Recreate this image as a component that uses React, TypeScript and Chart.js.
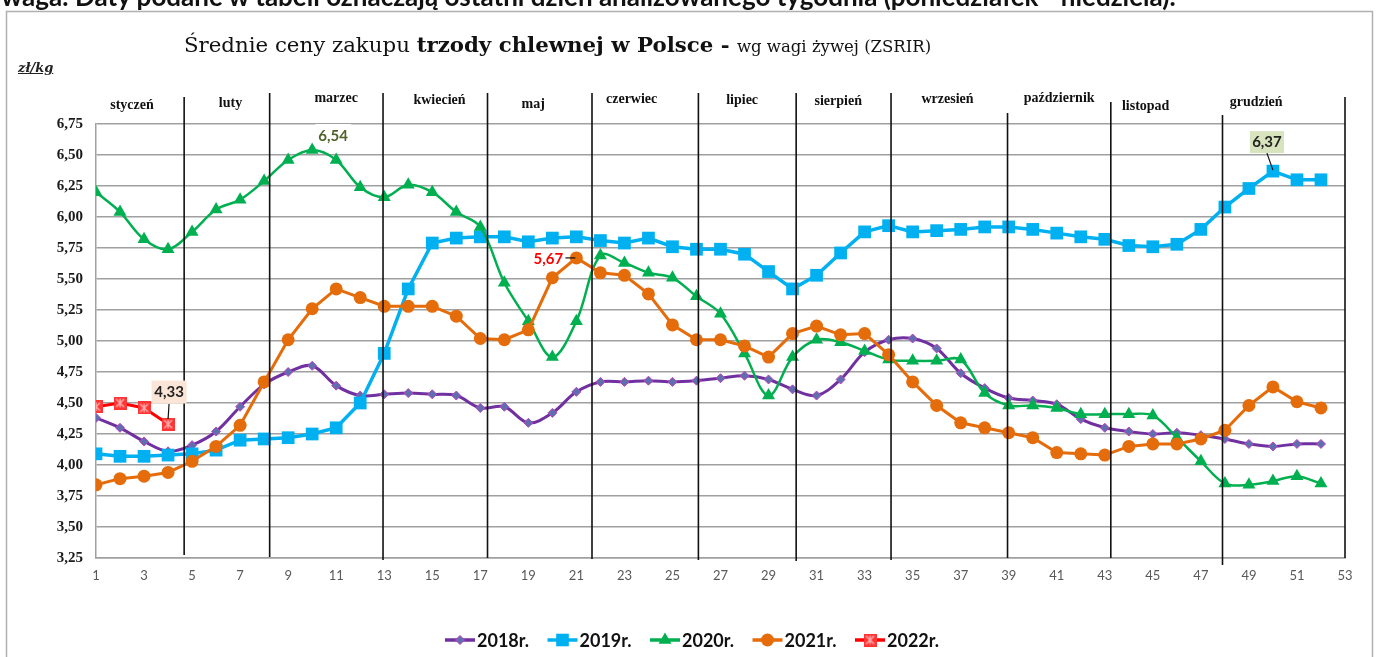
import React, { useEffect, useRef } from "react";
import { Chart, registerables } from "chart.js";
Chart.register(...registerables);

const weeks = [1, 2, 3, 4, 5, 6, 7, 8, 9, 10, 11, 12, 13, 14, 15, 16, 17, 18, 19, 20, 21, 22, 23, 24, 25, 26, 27, 28, 29, 30, 31, 32, 33, 34, 35, 36, 37, 38, 39, 40, 41, 42, 43, 44, 45, 46, 47, 48, 49, 50, 51, 52];

const y2018 = [4.38, 4.30, 4.19, 4.11, 4.16, 4.27, 4.47, 4.65, 4.75, 4.80, 4.64, 4.56, 4.57, 4.58, 4.57, 4.56, 4.46, 4.47, 4.34, 4.42, 4.59, 4.67, 4.67, 4.68, 4.67, 4.68, 4.70, 4.72, 4.69, 4.61, 4.56, 4.69, 4.91, 5.01, 5.02, 4.94, 4.74, 4.62, 4.54, 4.52, 4.49, 4.37, 4.30, 4.27, 4.25, 4.26, 4.24, 4.21, 4.17, 4.15, 4.17, 4.17];
const y2019 = [4.09, 4.07, 4.07, 4.08, 4.09, 4.12, 4.20, 4.21, 4.22, 4.25, 4.30, 4.50, 4.90, 5.42, 5.79, 5.83, 5.84, 5.84, 5.80, 5.83, 5.84, 5.81, 5.79, 5.83, 5.76, 5.74, 5.74, 5.70, 5.56, 5.42, 5.53, 5.71, 5.88, 5.93, 5.88, 5.89, 5.90, 5.92, 5.92, 5.90, 5.87, 5.84, 5.82, 5.77, 5.76, 5.78, 5.90, 6.08, 6.23, 6.37, 6.30, 6.30];
const y2020 = [6.20, 6.04, 5.82, 5.74, 5.88, 6.06, 6.14, 6.29, 6.46, 6.54, 6.46, 6.24, 6.16, 6.26, 6.20, 6.04, 5.92, 5.47, 5.16, 4.87, 5.16, 5.69, 5.63, 5.55, 5.51, 5.36, 5.22, 4.90, 4.56, 4.87, 5.01, 4.99, 4.92, 4.85, 4.84, 4.84, 4.85, 4.58, 4.48, 4.48, 4.46, 4.41, 4.41, 4.41, 4.40, 4.22, 4.03, 3.85, 3.84, 3.87, 3.91, 3.85];
const y2021 = [3.84, 3.89, 3.91, 3.94, 4.03, 4.15, 4.32, 4.67, 5.01, 5.26, 5.42, 5.35, 5.28, 5.28, 5.28, 5.20, 5.02, 5.01, 5.09, 5.51, 5.67, 5.55, 5.53, 5.38, 5.13, 5.01, 5.01, 4.96, 4.87, 5.06, 5.12, 5.05, 5.06, 4.89, 4.67, 4.48, 4.34, 4.30, 4.26, 4.22, 4.10, 4.09, 4.08, 4.15, 4.17, 4.17, 4.21, 4.28, 4.48, 4.63, 4.51, 4.46];
const y2022 = [4.47, 4.50, 4.46, 4.33];

const seriesNames = ["2018r.", "2019r.", "2020r.", "2021r.", "2022r."];
const months = ["styczeń", "luty", "marzec", "kwiecień", "maj", "czerwiec", "lipiec", "sierpień", "wrzesień", "październik", "listopad", "grudzień"];
const yTickLabels = ["3,25", "3,50", "3,75", "4,00", "4,25", "4,50", "4,75", "5,00", "5,25", "5,50", "5,75", "6,00", "6,25", "6,50", "6,75"];

// layout (week-unit positions of month separators and labels)
const monthLabelAt = [2.5, 6.6, 11.0, 15.3, 19.2, 23.3, 27.9, 31.9, 36.45, 41.1, 44.7, 49.3];
const monthLabelY = [105, 103, 98, 100, 104, 99, 100, 101, 99, 98, 106, 102];
const separatorAt = [4.67, 8.23, 12.95, 17.3, 21.65, 26.08, 30.15, 34.1, 38.95, 43.25, 47.9, 53];
const separatorTop = [97, 93, 93, 93, 93, 93, 93, 93, 113, 102, 115, 97];
const separatorBelow = [-3, -1, 2, 0, 1, 2, 3, 2, 0, 0, 7, 0];

const COLORS = ["#7030a0", "#00b0f0", "#00b050", "#e46c0a", "#ff0000"];

function makeRedMarker() {
  const c = document.createElement("canvas");
  c.width = 13;
  c.height = 13;
  const g = c.getContext("2d")!;
  g.fillStyle = "#ff3535";
  g.fillRect(0, 0, 13, 13);
  g.strokeStyle = "#ffb8b8";
  g.lineWidth = 1.2;
  g.beginPath();
  g.moveTo(2.5, 2.5); g.lineTo(10.5, 10.5);
  g.moveTo(10.5, 2.5); g.lineTo(2.5, 10.5);
  g.moveTo(6.5, 2); g.lineTo(6.5, 11);
  g.stroke();
  return c;
}

function drawMarker(ctx: CanvasRenderingContext2D, kind: number, x: number, y: number, img: HTMLCanvasElement) {
  ctx.save();
  if (kind === 0) {
    ctx.fillStyle = "#5e6fae"; ctx.strokeStyle = "#c040c0"; ctx.lineWidth = 1;
    ctx.beginPath(); ctx.moveTo(x, y - 4.5); ctx.lineTo(x + 4.5, y); ctx.lineTo(x, y + 4.5); ctx.lineTo(x - 4.5, y); ctx.closePath();
    ctx.fill(); ctx.stroke();
  } else if (kind === 1) {
    ctx.fillStyle = COLORS[1]; ctx.fillRect(x - 6.3, y - 6.3, 12.6, 12.6);
  } else if (kind === 2) {
    ctx.fillStyle = COLORS[2];
    ctx.beginPath(); ctx.moveTo(x, y - 7.5); ctx.lineTo(x + 6.5, y + 3.75); ctx.lineTo(x - 6.5, y + 3.75); ctx.closePath(); ctx.fill();
  } else if (kind === 3) {
    ctx.fillStyle = COLORS[3]; ctx.beginPath(); ctx.arc(x, y, 6.5, 0, Math.PI * 2); ctx.fill();
  } else {
    ctx.drawImage(img, x - 6.5, y - 6.5);
  }
  ctx.restore();
}

export default function App() {
  const ref = useRef<HTMLCanvasElement>(null);
  useEffect(() => {
    const canvas = ref.current!;
    const redImg = makeRedMarker();
    const pts = (arr: number[]) => arr.map((v, i) => ({ x: weeks[i], y: v }));

    const deco = {
      id: "deco",
      beforeDraw(chart: any) {
        const ctx = chart.ctx as CanvasRenderingContext2D;
        ctx.save();
        ctx.fillStyle = "#fff";
        ctx.fillRect(0, 0, chart.width, chart.height);
        ctx.strokeStyle = "#b0b0b0";
        ctx.lineWidth = 1.5;
        ctx.strokeRect(6.5, 11.5, 1366, 700);
        ctx.restore();
      },
      afterDatasetsDraw(chart: any) {
        const ctx = chart.ctx as CanvasRenderingContext2D;
        const xs = chart.scales.x;
        const ys = chart.scales.y;
        const area = chart.chartArea;
        ctx.save();
        // month separators
        ctx.strokeStyle = "#111";
        ctx.lineWidth = 1.6;
        separatorAt.forEach((w, i) => {
          const x = xs.getPixelForValue(w);
          ctx.beginPath();
          ctx.moveTo(x, separatorTop[i]);
          ctx.lineTo(x, area.bottom + separatorBelow[i]);
          ctx.stroke();
        });
        // month labels
        ctx.fillStyle = "#111";
        ctx.font = "bold 14px 'Liberation Serif'";
        ctx.textAlign = "center";
        ctx.textBaseline = "middle";
        months.forEach((m, i) => {
          ctx.fillText(m, xs.getPixelForValue(monthLabelAt[i]), monthLabelY[i]);
        });

        // data labels
        const label = (txt: string, cx: number, cy: number, color: string, bg: string | null, w: number, h: number) => {
          if (bg) {
            ctx.fillStyle = bg;
            ctx.fillRect(cx - w / 2, cy - h / 2, w, h);
          }
          ctx.fillStyle = color;
          ctx.font = "bold 15px Lato";
          ctx.textAlign = "center";
          ctx.textBaseline = "middle";
          ctx.fillText(txt, cx, cy);
        };
        const leader = (x1: number, y1: number, x2: number, y2: number) => {
          ctx.strokeStyle = "#111";
          ctx.lineWidth = 1.2;
          ctx.beginPath(); ctx.moveTo(x1, y1); ctx.lineTo(x2, y2); ctx.stroke();
        };
        // 6,54 (2020 week 10)
        {
          const px = xs.getPixelForValue(10), py = ys.getPixelForValue(y2020[9]);
          label("6,54", px + 21, py - 14, "#4f6228", "#ffffff", 36, 24);
        }
        // 5,67 (2021 week 21)
        {
          const px = xs.getPixelForValue(21), py = ys.getPixelForValue(y2021[20]);
          label("5,67", px - 28, py + 1, "#ff0000", null, 30, 20);
          leader(px - 11, py, px - 1, py);
        }
        // 6,37 (2019 week 50)
        {
          const px = xs.getPixelForValue(50), py = ys.getPixelForValue(y2019[49]);
          label("6,37", px - 6, py - 29, "#222", "#d7e4bd", 34, 22);
          leader(px - 6, py - 18, px, py - 1);
        }
        // 4,33 (2022 week 4)
        {
          const px = xs.getPixelForValue(4), py = ys.getPixelForValue(y2022[3]);
          label("4,33", px + 1, py - 32, "#222", "#fbe5d6", 35, 23);
          leader(px + 1, py - 20, px, py - 5);
        }

        // legend
        const legendX = 445, legendStep = 102.5, legendY = 640;
        seriesNames.forEach((n, i) => {
          const x0 = legendX + i * legendStep;
          ctx.strokeStyle = COLORS[i];
          ctx.lineWidth = 3.5;
          ctx.beginPath(); ctx.moveTo(x0, legendY); ctx.lineTo(x0 + 30, legendY); ctx.stroke();
          drawMarker(ctx, i, x0 + 15, legendY, redImg);
          ctx.fillStyle = "#111";
          ctx.font = "bold 18px Lato";
          ctx.textAlign = "left";
          ctx.textBaseline = "middle";
          ctx.fillText(n, x0 + 32, legendY + 1);
        });
        ctx.restore();
      },
    };

    const chart = new Chart(canvas, {
      type: "line",
      data: {
        datasets: [
          {
            label: seriesNames[0], data: pts(y2018), borderColor: COLORS[0], borderWidth: 3, tension: 0.35,
            pointStyle: "rectRot", pointRadius: 4.5, pointBackgroundColor: "#5e6fae", pointBorderColor: "#c040c0", pointBorderWidth: 1, order: 5,
          },
          {
            label: seriesNames[1], data: pts(y2019), borderColor: COLORS[1], borderWidth: 3.5, tension: 0,
            pointStyle: "rect", pointRadius: 9, pointBackgroundColor: COLORS[1], pointBorderWidth: 0, order: 4,
          },
          {
            label: seriesNames[2], data: pts(y2020), borderColor: COLORS[2], borderWidth: 2.5, tension: 0.35,
            pointStyle: "triangle", pointRadius: 7.5, pointBackgroundColor: COLORS[2], pointBorderWidth: 0, order: 3,
          },
          {
            label: seriesNames[3], data: pts(y2021), borderColor: COLORS[3], borderWidth: 3, tension: 0,
            pointStyle: "circle", pointRadius: 6.5, pointBackgroundColor: COLORS[3], pointBorderWidth: 0, order: 2,
          },
          {
            label: seriesNames[4], data: pts(y2022), borderColor: COLORS[4], borderWidth: 3, tension: 0,
            pointStyle: redImg as any, pointRadius: 6.5, order: 1,
          },
        ],
      },
      options: {
        responsive: false,
        animation: false,
        devicePixelRatio: 1,
        layout: { padding: { top: 124, right: 33, bottom: 69, left: 0 } },
        plugins: { legend: { display: false }, tooltip: { enabled: false }, title: { display: false } },
        scales: {
          x: {
            type: "linear", min: 1, max: 53,
            ticks: { stepSize: 2, color: "#595959", font: { family: "Lato", size: 13 }, padding: 10, maxRotation: 0, autoSkip: false },
            grid: { display: false, drawTicks: false },
            border: { display: true, color: "#a0a0a0", width: 1.5 },
            afterFit: (s: any) => { s.height = 30; },
          },
          y: {
            min: 3.25, max: 6.75,
            ticks: {
              stepSize: 0.25, color: "#1a1a1a", padding: 13,
              font: { family: "'Liberation Serif'", size: 15, weight: "bold" },
              callback: (_v: any, i: number) => yTickLabels[i],
            },
            grid: { color: "#a0a0a0", lineWidth: 1.5, drawTicks: false },
            border: { color: "#a0a0a0", width: 1.5 },
            afterFit: (s: any) => { s.width = 96; },
          },
        },
      },
      plugins: [deco],
    });
    return () => chart.destroy();
  }, []);

  return (
    <div style={{ position: "fixed", left: 0, top: 0, width: 1378, height: 657, overflow: "hidden", background: "#fff" }}>
      <canvas ref={ref} width={1378} height={657} style={{ position: "absolute", left: 0, top: 0 }} />
      <div style={{ position: "absolute", left: -18, top: -17, fontFamily: "Lato", fontWeight: 700, fontSize: 26, lineHeight: "26px", whiteSpace: "nowrap", color: "#111" }}>
        Uwaga: Daty podane w tabeli oznaczają ostatni dzień analizowanego tygodnia (poniedziałek - niedziela).
      </div>
      <div style={{ position: "absolute", left: 184, top: 34, fontFamily: "'DejaVu Serif'", fontSize: 21.3, lineHeight: "21px", whiteSpace: "nowrap", color: "#111" }}>
        <span>Średnie ceny zakupu </span>
        <span style={{ fontWeight: 700 }}>trzody chlewnej w Polsce - </span>
        <span style={{ fontSize: 16.5 }}>wg wagi żywej (ZSRIR)</span>
      </div>
      <div style={{ position: "absolute", left: 18, top: 61, fontFamily: "'DejaVu Serif'", fontSize: 13, lineHeight: "13px", fontWeight: 700, fontStyle: "italic", textDecoration: "underline", color: "#222" }}>
        zł/kg
      </div>
    </div>
  );
}
